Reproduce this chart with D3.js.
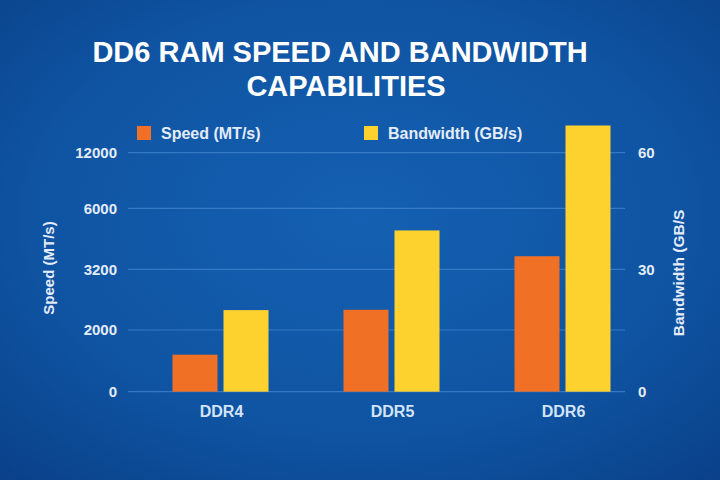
<!DOCTYPE html>
<html><head><meta charset="utf-8">
<script src="https://cdn.jsdelivr.net/npm/d3@7/dist/d3.min.js"></script>
<style>html,body{margin:0;padding:0;background:#0d4f9c;}svg{display:block;}</style>
</head><body>
<svg id="c" width="720" height="480"></svg>
<script>
const categories = ["DDR4", "DDR5", "DDR6"];
const speedValues = [1200, 2400, 3800];
const bandwidthValues = [20, 40, 67];
const speedTicks = [0, 2000, 3200, 6000, 12000];
const bandwidthTicks = [0, 30, 60];
const seriesNames = ["Speed (MT/s)", "Bandwidth (GB/s)"];

const svg = d3.select("#c");
const W = 720, H = 480;
const defs = svg.append("defs");
const rg = defs.append("radialGradient").attr("id","bg").attr("cx","50%").attr("cy","45%").attr("r","75%");
rg.append("stop").attr("offset","0%").attr("stop-color","#1560b2");
rg.append("stop").attr("offset","60%").attr("stop-color","#0f54a2");
rg.append("stop").attr("offset","100%").attr("stop-color","#0a4088");
svg.append("rect").attr("width",W).attr("height",H).attr("fill","url(#bg)");

const font = "Liberation Sans, Arial, sans-serif";
// title
const title = svg.append("text").attr("text-anchor","middle").attr("fill","#ffffff")
  .attr("font-family",font).attr("font-weight","bold").attr("font-size",29);
title.append("tspan").attr("x",340).attr("y",62).text("DD6 RAM SPEED AND BANDWIDTH");
title.append("tspan").attr("x",346).attr("y",96).text("CAPABILITIES");

const left = 128, right = 625;
// pixel rows of the (unevenly spaced) gridlines
const yPos = [391.7, 330, 269.3, 208.3, 152.7];
const ySpeed = d3.scaleLinear().domain(speedTicks).range(yPos);
const yBw = d3.scaleLinear().domain(bandwidthTicks).range([yPos[0], yPos[2], yPos[4]]);
const x = d3.scaleBand().domain(categories).range([135, 648]).paddingInner(0).paddingOuter(0);
const bw = 45, gap = 6;

// gridlines
svg.append("g").selectAll("line").data(speedTicks).join("line")
  .attr("x1",left).attr("x2",right).attr("y1",d=>ySpeed(d)).attr("y2",d=>ySpeed(d))
  .attr("stroke","#3f82cc").attr("stroke-width",1.2).attr("opacity",0.8);

const labelColor = "#e3ecf8";
// left axis
const la = svg.append("g").attr("transform",`translate(${left},0)`)
  .call(d3.axisLeft(ySpeed).tickValues(speedTicks).tickSize(0).tickPadding(10).tickFormat(d3.format("d")));
la.select(".domain").remove();
la.selectAll("text").attr("fill",labelColor).attr("font-family",font).attr("font-weight","bold")
  .attr("font-size",15).attr("x",-11);

// right axis
const ra = svg.append("g").attr("transform",`translate(${right},0)`)
  .call(d3.axisRight(yBw).tickValues(bandwidthTicks).tickSize(0).tickPadding(13));
ra.select(".domain").remove();
ra.selectAll("text").attr("fill",labelColor).attr("font-family",font).attr("font-weight","bold").attr("font-size",15);

// bars
const g = svg.append("g");
g.selectAll(".s").data(categories).join("rect").attr("class","s")
  .attr("x",d=>x(d)+x.bandwidth()/2-bw-gap/2).attr("width",bw)
  .attr("y",(d,i)=>ySpeed(speedValues[i])).attr("height",(d,i)=>ySpeed(0)-ySpeed(speedValues[i]))
  .attr("fill","#f07125");
g.selectAll(".b").data(categories).join("rect").attr("class","b")
  .attr("x",d=>x(d)+x.bandwidth()/2+gap/2).attr("width",bw)
  .attr("y",(d,i)=>yBw(bandwidthValues[i])).attr("height",(d,i)=>yBw(0)-yBw(bandwidthValues[i]))
  .attr("fill","#fdd22e");

// x axis labels
const xa = svg.append("g").attr("transform",`translate(0,${yPos[0]})`)
  .call(d3.axisBottom(x).tickSize(0).tickPadding(14));
xa.select(".domain").remove();
xa.selectAll("text").attr("fill","#d3e4f8").attr("font-family",font).attr("font-weight","bold")
  .attr("font-size",16).attr("x",1);

// axis titles
svg.append("text").attr("transform","translate(54,268) rotate(-90)").attr("text-anchor","middle")
  .attr("fill",labelColor).attr("font-family",font).attr("font-weight","bold").attr("font-size",15).text("Speed (MT/s)");
svg.append("text").attr("transform","translate(684,273) rotate(-90)").attr("text-anchor","middle")
  .attr("fill",labelColor).attr("font-family",font).attr("font-weight","bold").attr("font-size",15.5).text("Bandwidth (GB/S");

// legend
const legendX = [137, 364];
const legendColors = ["#f07125", "#fdd22e"];
const lg = svg.append("g").selectAll("g").data(seriesNames).join("g")
  .attr("transform",(d,i)=>`translate(${legendX[i]},126)`);
lg.append("rect").attr("width",14).attr("height",14).attr("fill",(d,i)=>legendColors[i]);
lg.append("text").attr("x",24).attr("y",13).attr("fill",labelColor).attr("font-family",font)
  .attr("font-weight","bold").attr("font-size",16).text(d=>d);
</script>
</body></html>
